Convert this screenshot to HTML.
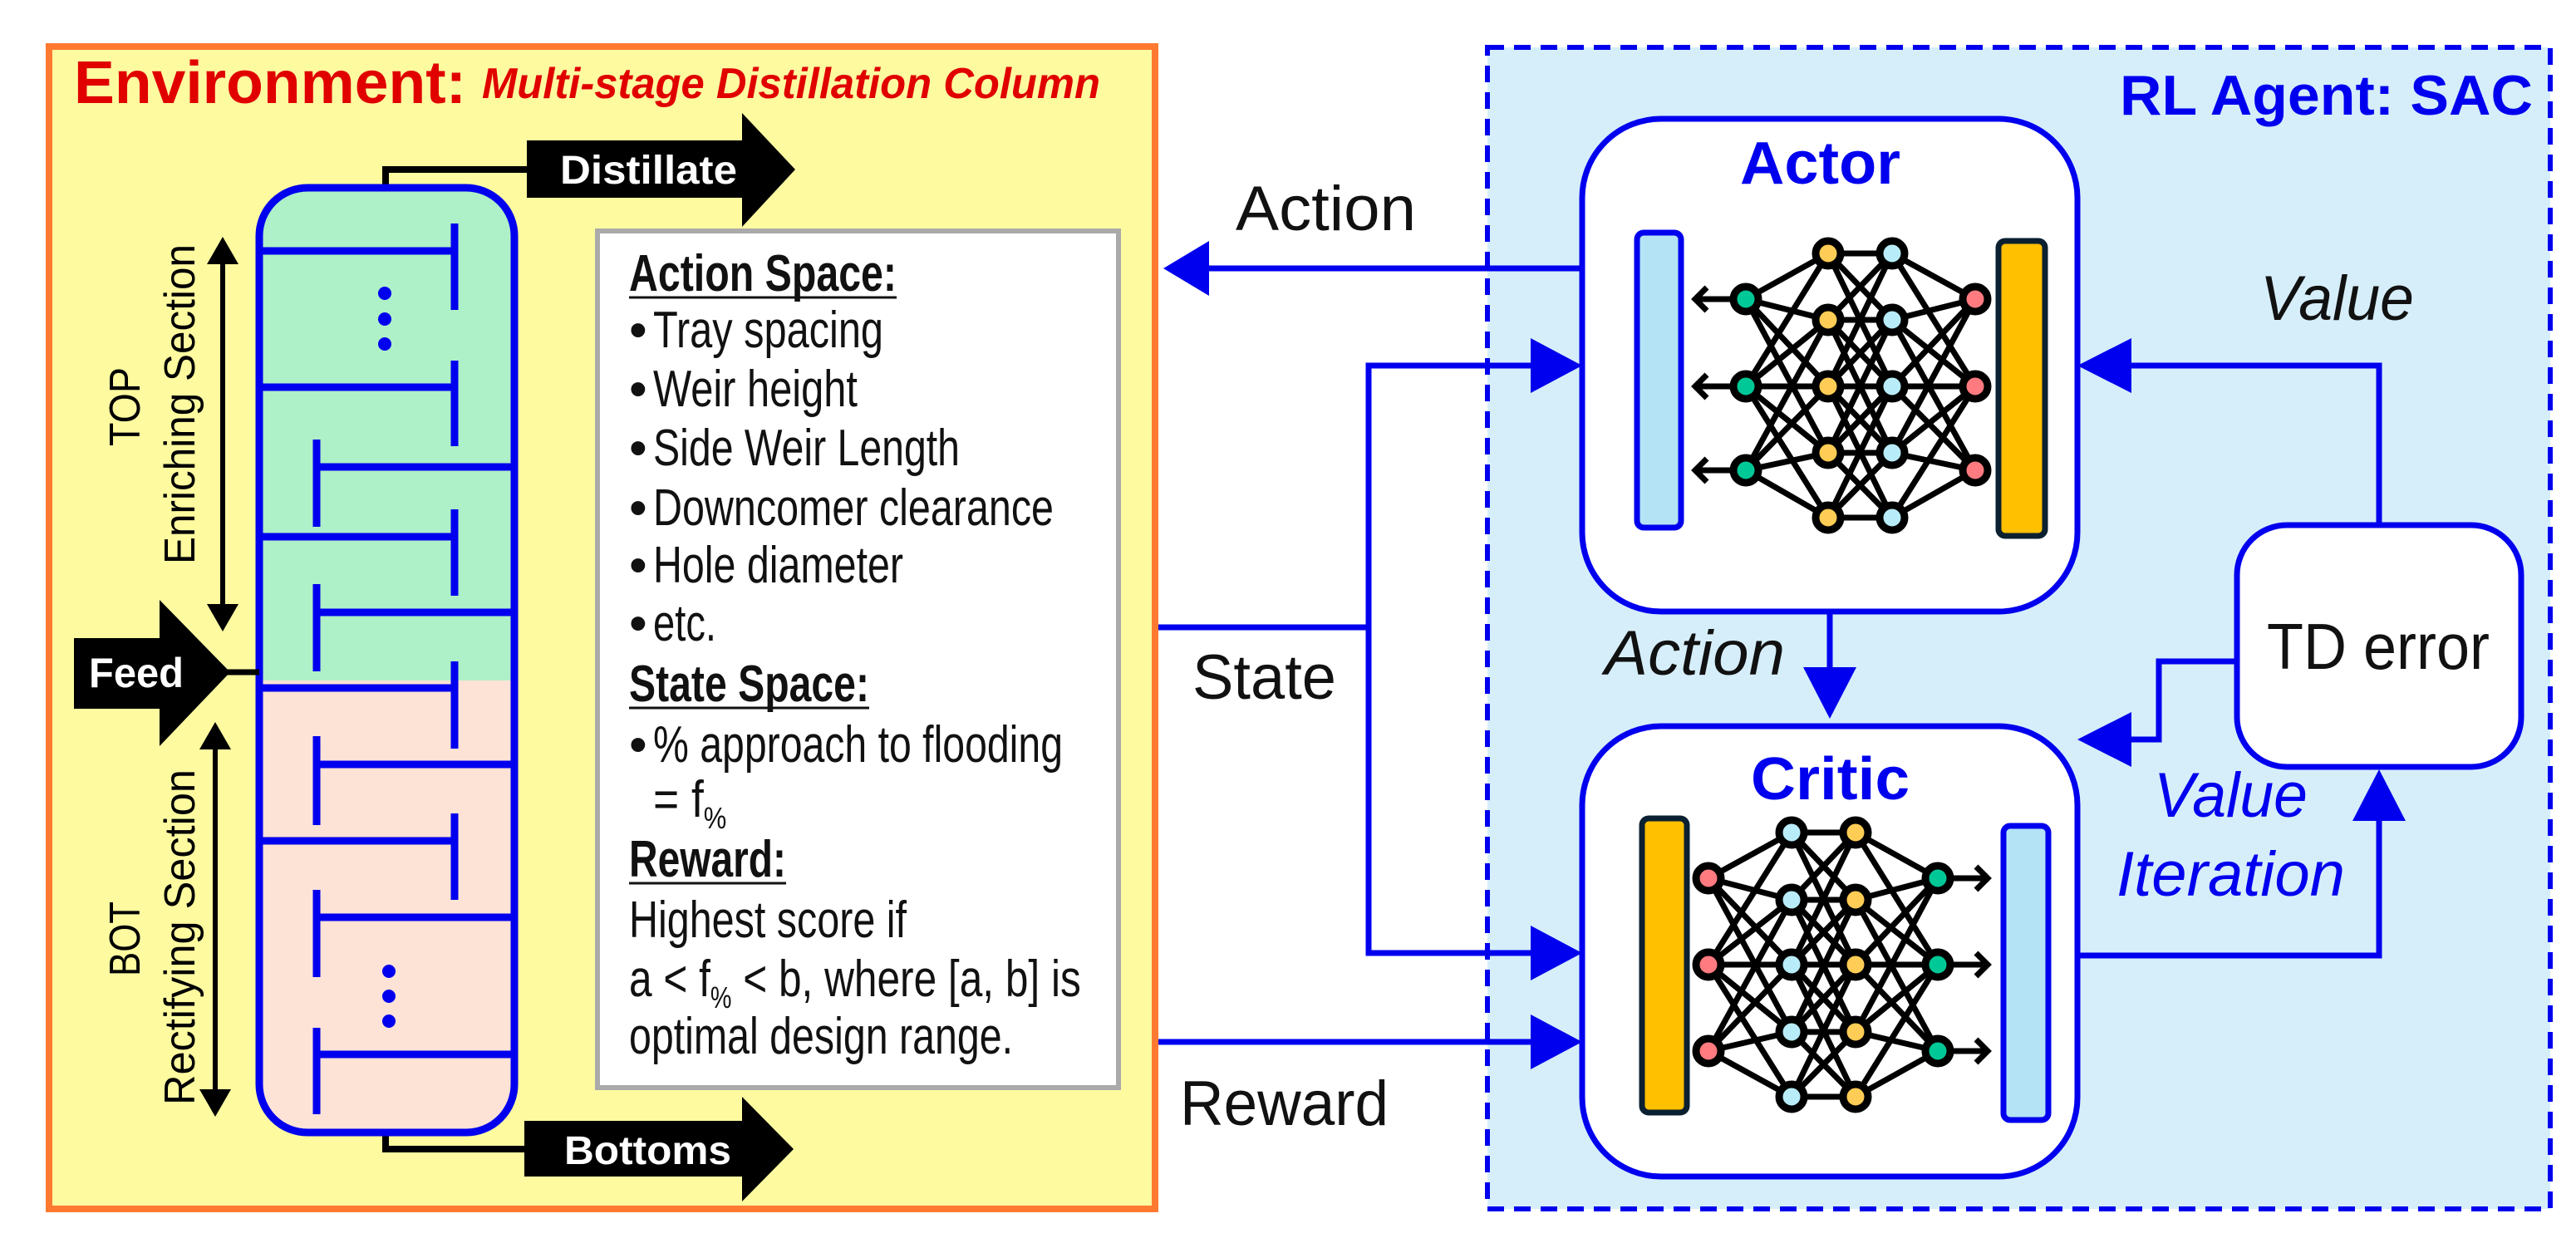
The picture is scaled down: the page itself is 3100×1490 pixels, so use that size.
<!DOCTYPE html>
<html><head><meta charset="utf-8"><style>
html,body{margin:0;padding:0;background:#fff;}
svg{display:block;}
text{font-family:"Liberation Sans",sans-serif;}
</style></head><body>
<svg width="3100" height="1490" viewBox="0 0 3100 1490" xmlns="http://www.w3.org/2000/svg">
<defs>
<clipPath id="colclip"><rect x="312" y="226" width="307" height="1137" rx="58"/></clipPath>
</defs>
<!-- Environment box -->
<rect x="59" y="56" width="1331" height="1399" fill="#fdfaa0" stroke="#ff7a30" stroke-width="8"/>
<text x="89" y="124" font-size="72" font-weight="bold" fill="#e00000" textLength="472" lengthAdjust="spacingAndGlyphs">Environment:</text>
<text x="580" y="118" font-size="52" font-weight="bold" font-style="italic" fill="#e00000" textLength="744" lengthAdjust="spacingAndGlyphs">Multi-stage Distillation Column</text>

<!-- Distillate / Bottoms lines -->
<polyline points="464,226 464,204 640,204" fill="none" stroke="#000" stroke-width="8"/>
<polyline points="464,1363 464,1383 640,1383" fill="none" stroke="#000" stroke-width="8"/>
<polygon points="634,169 893,169 893,136 957,204 893,273 893,238 634,238" fill="#000"/>
<polygon points="631,1349 893,1349 893,1320 955,1383 893,1446 893,1416 631,1416" fill="#000"/>
<text x="674" y="221" font-size="48" font-weight="bold" fill="#fff" textLength="213" lengthAdjust="spacingAndGlyphs">Distillate</text>
<text x="679" y="1401" font-size="48" font-weight="bold" fill="#fff" textLength="201" lengthAdjust="spacingAndGlyphs">Bottoms</text>

<!-- Column -->
<g clip-path="url(#colclip)">
<rect x="300" y="200" width="340" height="620" fill="#aef0c8"/>
<rect x="300" y="819" width="340" height="600" fill="#fde2d6"/>
</g>
<g stroke="#0000ee" stroke-width="9" fill="none">
<line x1="312" y1="302" x2="547" y2="302"/><line x1="547" y1="269" x2="547" y2="373"/>
<line x1="312" y1="466" x2="547" y2="466"/><line x1="547" y1="434" x2="547" y2="537"/>
<line x1="381" y1="562" x2="619" y2="562"/><line x1="381" y1="529" x2="381" y2="634"/>
<line x1="312" y1="646" x2="547" y2="646"/><line x1="547" y1="613" x2="547" y2="717"/>
<line x1="381" y1="737" x2="619" y2="737"/><line x1="381" y1="703" x2="381" y2="808"/>
<line x1="312" y1="828" x2="547" y2="828"/><line x1="547" y1="796" x2="547" y2="901"/>
<line x1="381" y1="920" x2="619" y2="920"/><line x1="381" y1="886" x2="381" y2="993"/>
<line x1="312" y1="1012" x2="547" y2="1012"/><line x1="547" y1="979" x2="547" y2="1083"/>
<line x1="381" y1="1104" x2="619" y2="1104"/><line x1="381" y1="1071" x2="381" y2="1176"/>
<line x1="381" y1="1269" x2="619" y2="1269"/><line x1="381" y1="1237" x2="381" y2="1341"/>
<rect x="312" y="226" width="307" height="1137" rx="58"/>
</g>
<g fill="#0000ee">
<circle cx="463" cy="353" r="8"/><circle cx="463" cy="384" r="8"/><circle cx="463" cy="414" r="8"/>
<circle cx="468" cy="1169" r="8"/><circle cx="468" cy="1199" r="8"/><circle cx="468" cy="1229" r="8"/>
</g>

<!-- Feed -->
<line x1="270" y1="809" x2="312" y2="809" stroke="#000" stroke-width="7"/>
<polygon points="89,768 192,768 192,722 277,809 192,898 192,853 89,853" fill="#000"/>
<text x="107" y="827" font-size="50" font-weight="bold" fill="#fff" textLength="114" lengthAdjust="spacingAndGlyphs">Feed</text>

<!-- double arrows -->
<g stroke="#000" stroke-width="6">
<line x1="268" y1="305" x2="268" y2="740"/>
<line x1="259" y1="889" x2="259" y2="1324"/>
</g>
<g fill="#000">
<polygon points="268,285 249,318 287,318"/><polygon points="268,760 249,727 287,727"/>
<polygon points="259,869 240,902 278,902"/><polygon points="259,1344 240,1311 278,1311"/>
</g>
<text transform="translate(168,537) rotate(-90)" font-size="52" fill="#000" textLength="95" lengthAdjust="spacingAndGlyphs">TOP</text>
<text transform="translate(234,679) rotate(-90)" font-size="52" fill="#000" textLength="385" lengthAdjust="spacingAndGlyphs">Enriching Section</text>
<text transform="translate(168,1175) rotate(-90)" font-size="52" fill="#000" textLength="90" lengthAdjust="spacingAndGlyphs">BOT</text>
<text transform="translate(234,1330) rotate(-90)" font-size="52" fill="#000" textLength="404" lengthAdjust="spacingAndGlyphs">Rectifying Section</text>

<!-- Text box -->
<rect x="719" y="278" width="627" height="1031" fill="#fff" stroke="#aaaaaa" stroke-width="6"/>
<g font-size="62" fill="#111">
<text x="757" y="350" font-weight="bold" textLength="322" lengthAdjust="spacingAndGlyphs">Action Space:</text>
<line x1="757" y1="358" x2="1079" y2="358" stroke="#111" stroke-width="3"/>
<text x="757" y="418">•</text><text x="786" y="418" textLength="277" lengthAdjust="spacingAndGlyphs">Tray spacing</text>
<text x="757" y="489">•</text><text x="786" y="489" textLength="246" lengthAdjust="spacingAndGlyphs">Weir height</text>
<text x="757" y="560">•</text><text x="786" y="560" textLength="369" lengthAdjust="spacingAndGlyphs">Side Weir Length</text>
<text x="757" y="632">•</text><text x="786" y="632" textLength="482" lengthAdjust="spacingAndGlyphs">Downcomer clearance</text>
<text x="757" y="701">•</text><text x="786" y="701" textLength="301" lengthAdjust="spacingAndGlyphs">Hole diameter</text>
<text x="757" y="771">•</text><text x="786" y="771" textLength="76" lengthAdjust="spacingAndGlyphs">etc.</text>
<text x="757" y="844" font-weight="bold" textLength="289" lengthAdjust="spacingAndGlyphs">State Space:</text>
<line x1="757" y1="852" x2="1046" y2="852" stroke="#111" stroke-width="3"/>
<text x="757" y="917">•</text><text x="786" y="917" textLength="493" lengthAdjust="spacingAndGlyphs">% approach to flooding</text>
<text x="786" y="983" transform="translate(786,0) scale(0.86,1) translate(-786,0)">= f<tspan font-size="36" dy="14">%</tspan></text>
<text x="757" y="1055" font-weight="bold" textLength="189" lengthAdjust="spacingAndGlyphs">Reward:</text>
<line x1="757" y1="1063" x2="946" y2="1063" stroke="#111" stroke-width="3"/>
<text x="757" y="1128" textLength="334" lengthAdjust="spacingAndGlyphs">Highest score if</text>
<text x="757" y="1199" transform="translate(757,0) scale(0.8,1) translate(-757,0)">a &lt; f<tspan font-size="36" dy="14">%</tspan><tspan dy="-14"> &lt; b, where [a, b] is</tspan></text>
<text x="757" y="1268" textLength="462" lengthAdjust="spacingAndGlyphs">optimal design range.</text>
</g>

<!-- RL agent box -->
<rect x="1790" y="57" width="1279" height="1398" fill="#d6eefa" stroke="#0000ee" stroke-width="6" stroke-dasharray="20,12"/>
<text x="2551" y="138" font-size="68" font-weight="bold" fill="#0000ee" textLength="497" lengthAdjust="spacingAndGlyphs">RL Agent: SAC</text>

<!-- connectors -->
<g stroke="#0000ee" stroke-width="7" fill="none">
<line x1="1450" y1="323" x2="1904" y2="323"/>
<polyline points="1394,755 1647,755"/>
<polyline points="1850,440 1647,440 1647,1147 1850,1147"/>
<line x1="1394" y1="1254" x2="1850" y2="1254"/>
<line x1="2202" y1="736" x2="2202" y2="810"/>
<polyline points="2863,632 2863,440 2560,440"/>
<polyline points="2692,796 2598,796 2598,890 2560,890"/>
<polyline points="2500,1150 2863,1150 2863,985"/>
</g>
<g fill="#0000ee">
<polygon points="1400,323 1455,290 1455,356"/>
<polygon points="1904,440 1842,407 1842,473"/>
<polygon points="1904,1147 1842,1114 1842,1180"/>
<polygon points="1904,1254 1842,1221 1842,1287"/>
<polygon points="2202,865 2170,803 2234,803"/>
<polygon points="2500,440 2565,407 2565,473"/>
<polygon points="2500,890 2565,857 2565,923"/>
<polygon points="2863,926 2831,988 2895,988"/>
</g>
<text x="1487" y="277" font-size="76" fill="#111" textLength="217" lengthAdjust="spacingAndGlyphs">Action</text>
<text x="1435" y="841" font-size="76" fill="#111" textLength="173" lengthAdjust="spacingAndGlyphs">State</text>
<text x="1420" y="1354" font-size="76" fill="#111" textLength="251" lengthAdjust="spacingAndGlyphs">Reward</text>
<text x="1931" y="812" font-size="76" font-style="italic" fill="#111" textLength="217" lengthAdjust="spacingAndGlyphs">Action</text>
<text x="2720" y="385" font-size="76" font-style="italic" fill="#111" textLength="185" lengthAdjust="spacingAndGlyphs">Value</text>
<text x="2592" y="983" font-size="76" font-style="italic" fill="#0000ee" textLength="185" lengthAdjust="spacingAndGlyphs">Value</text>
<text x="2547" y="1078" font-size="76" font-style="italic" fill="#0000ee" textLength="275" lengthAdjust="spacingAndGlyphs">Iteration</text>

<!-- Actor / Critic / TD -->
<rect x="1904" y="143" width="596" height="593" rx="95" fill="#fff" stroke="#0000ee" stroke-width="7"/>
<rect x="1904" y="874" width="596" height="542" rx="95" fill="#fff" stroke="#0000ee" stroke-width="7"/>
<rect x="2692" y="632" width="342" height="291" rx="60" fill="#fff" stroke="#0000ee" stroke-width="7"/>
<text x="2094" y="221" font-size="72" font-weight="bold" fill="#0000ee" textLength="193" lengthAdjust="spacingAndGlyphs">Actor</text>
<text x="2107" y="962" font-size="72" font-weight="bold" fill="#0000ee" textLength="191" lengthAdjust="spacingAndGlyphs">Critic</text>
<text x="2728" y="805" font-size="78" fill="#111" textLength="268" lengthAdjust="spacingAndGlyphs">TD error</text>

<!-- Actor NN -->
<rect x="1970" y="280" width="53" height="355" rx="8" fill="#b3e3f5" stroke="#0000ee" stroke-width="7"/>
<rect x="2405" y="290" width="56" height="355" rx="8" fill="#ffc000" stroke="#0b2030" stroke-width="7"/>
<g stroke="#000" stroke-width="7" fill="none">
<path d="M2101,360 L2200,305 M2101,360 L2200,385 M2101,360 L2200,465 M2101,360 L2200,545
M2101,465 L2200,305 M2101,465 L2200,385 M2101,465 L2200,465 M2101,465 L2200,545 M2101,465 L2200,623
M2101,566 L2200,385 M2101,566 L2200,465 M2101,566 L2200,545 M2101,566 L2200,623"/>
<path d="M2200,305 L2277,305 M2200,305 L2277,385 M2200,305 L2277,465
M2200,385 L2277,305 M2200,385 L2277,385 M2200,385 L2277,465 M2200,385 L2277,545
M2200,465 L2277,305 M2200,465 L2277,385 M2200,465 L2277,465 M2200,465 L2277,545 M2200,465 L2277,623
M2200,545 L2277,385 M2200,545 L2277,465 M2200,545 L2277,545 M2200,545 L2277,623
M2200,623 L2277,465 M2200,623 L2277,545 M2200,623 L2277,623"/>
<path d="M2377,360 L2277,305 M2377,360 L2277,385 M2377,360 L2277,465 M2377,360 L2277,545
M2377,465 L2277,305 M2377,465 L2277,385 M2377,465 L2277,465 M2377,465 L2277,545 M2377,465 L2277,623
M2377,566 L2277,385 M2377,566 L2277,465 M2377,566 L2277,545 M2377,566 L2277,623"/>
<path d="M2101,360 L2040,360 M2054,346 L2040,360 L2054,374 M2101,465 L2040,465 M2054,451 L2040,465 L2054,479 M2101,566 L2040,566 M2054,552 L2040,566 L2054,580"/>
</g>
<g stroke="#000" stroke-width="9">
<circle cx="2101" cy="360" r="15" fill="#00c896"/><circle cx="2101" cy="465" r="15" fill="#00c896"/><circle cx="2101" cy="566" r="15" fill="#00c896"/>
<circle cx="2200" cy="305" r="15" fill="#ffcc55"/><circle cx="2200" cy="385" r="15" fill="#ffcc55"/><circle cx="2200" cy="465" r="15" fill="#ffcc55"/><circle cx="2200" cy="545" r="15" fill="#ffcc55"/><circle cx="2200" cy="623" r="15" fill="#ffcc55"/>
<circle cx="2277" cy="305" r="15" fill="#b8ecf8"/><circle cx="2277" cy="385" r="15" fill="#b8ecf8"/><circle cx="2277" cy="465" r="15" fill="#b8ecf8"/><circle cx="2277" cy="545" r="15" fill="#b8ecf8"/><circle cx="2277" cy="623" r="15" fill="#b8ecf8"/>
<circle cx="2377" cy="360" r="15" fill="#ff7b80"/><circle cx="2377" cy="465" r="15" fill="#ff7b80"/><circle cx="2377" cy="566" r="15" fill="#ff7b80"/>
</g>

<!-- Critic NN -->
<rect x="1976" y="985" width="54" height="354" rx="8" fill="#ffc000" stroke="#0b2030" stroke-width="7"/>
<rect x="2411" y="994" width="54" height="354" rx="8" fill="#b3e3f5" stroke="#0000ee" stroke-width="7"/>
<g stroke="#000" stroke-width="7" fill="none">
<path d="M2056,1057 L2156,1002 M2056,1057 L2156,1083 M2056,1057 L2156,1161 M2056,1057 L2156,1242
M2056,1161 L2156,1002 M2056,1161 L2156,1083 M2056,1161 L2156,1161 M2056,1161 L2156,1242 M2056,1161 L2156,1320
M2056,1265 L2156,1083 M2056,1265 L2156,1161 M2056,1265 L2156,1242 M2056,1265 L2156,1320"/>
<path d="M2156,1002 L2233,1002 M2156,1002 L2233,1083 M2156,1002 L2233,1161
M2156,1083 L2233,1002 M2156,1083 L2233,1083 M2156,1083 L2233,1161 M2156,1083 L2233,1242
M2156,1161 L2233,1002 M2156,1161 L2233,1083 M2156,1161 L2233,1161 M2156,1161 L2233,1242 M2156,1161 L2233,1320
M2156,1242 L2233,1083 M2156,1242 L2233,1161 M2156,1242 L2233,1242 M2156,1242 L2233,1320
M2156,1320 L2233,1161 M2156,1320 L2233,1242 M2156,1320 L2233,1320"/>
<path d="M2332,1057 L2233,1002 M2332,1057 L2233,1083 M2332,1057 L2233,1161 M2332,1057 L2233,1242
M2332,1161 L2233,1002 M2332,1161 L2233,1083 M2332,1161 L2233,1161 M2332,1161 L2233,1242 M2332,1161 L2233,1320
M2332,1265 L2233,1083 M2332,1265 L2233,1161 M2332,1265 L2233,1242 M2332,1265 L2233,1320"/>
<path d="M2332,1057 L2392,1057 M2378,1043 L2392,1057 L2378,1071 M2332,1161 L2392,1161 M2378,1147 L2392,1161 L2378,1175 M2332,1265 L2392,1265 M2378,1251 L2392,1265 L2378,1279"/>
</g>
<g stroke="#000" stroke-width="9">
<circle cx="2056" cy="1057" r="15" fill="#ff7b80"/><circle cx="2056" cy="1161" r="15" fill="#ff7b80"/><circle cx="2056" cy="1265" r="15" fill="#ff7b80"/>
<circle cx="2156" cy="1002" r="15" fill="#b8ecf8"/><circle cx="2156" cy="1083" r="15" fill="#b8ecf8"/><circle cx="2156" cy="1161" r="15" fill="#b8ecf8"/><circle cx="2156" cy="1242" r="15" fill="#b8ecf8"/><circle cx="2156" cy="1320" r="15" fill="#b8ecf8"/>
<circle cx="2233" cy="1002" r="15" fill="#ffcc55"/><circle cx="2233" cy="1083" r="15" fill="#ffcc55"/><circle cx="2233" cy="1161" r="15" fill="#ffcc55"/><circle cx="2233" cy="1242" r="15" fill="#ffcc55"/><circle cx="2233" cy="1320" r="15" fill="#ffcc55"/>
<circle cx="2332" cy="1057" r="15" fill="#00c896"/><circle cx="2332" cy="1161" r="15" fill="#00c896"/><circle cx="2332" cy="1265" r="15" fill="#00c896"/>
</g>
</svg>
</body></html>
